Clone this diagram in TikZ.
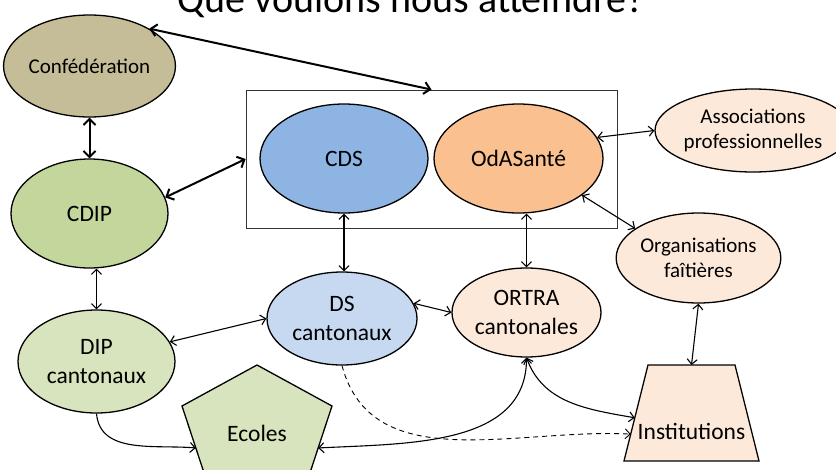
\documentclass[tikz,border=0pt]{standalone}
\usepackage{fontspec}
\setmainfont{Carlito}
\usetikzlibrary{shapes.geometric,arrows.meta,calc}
\definecolor{tan}{RGB}{196,189,151}
\definecolor{vertcdip}{RGB}{195,214,155}
\definecolor{vertclair}{RGB}{215,228,189}
\definecolor{bleucds}{RGB}{142,180,227}
\definecolor{bleuclair}{RGB}{198,217,241}
\definecolor{orangeoda}{RGB}{250,192,144}
\definecolor{peche}{RGB}{253,233,217}
\tikzset{
  bulle/.style={ellipse, draw, line width=1.3pt, inner sep=0pt, align=center,
    font=\fontsize{23.5}{28.7}\selectfont},
  petit/.style={font=\fontsize{21}{25.5}\selectfont},
  lien/.style={line width=1.1pt, {Straight Barb[length=5pt,width=10pt]}-{Straight Barb[length=5pt,width=10pt]}},
  gros/.style={line width=2pt, {Straight Barb[length=6pt,width=12pt]}-{Straight Barb[length=6pt,width=12pt]}}
}
\begin{document}
\begin{tikzpicture}[x=1pt,y=-1pt]
\useasboundingbox (0,0) rectangle (836,469);
\node[font=\fontsize{40}{48}\selectfont, anchor=base] (titre) at (411.5,12) {Que voulons nous atteindre?};
\node[draw=black!80, line width=0.8pt, minimum width=371pt, minimum height=138pt] (boite) at (431.5,159) {};
\node[bulle, petit, fill=tan, minimum width=157pt, minimum height=102pt] (conf) at (89.5,66) {Confédération};
\node[bulle, fill=vertcdip, minimum width=157pt, minimum height=109pt] (cdip) at (89.5,213.5) {CDIP};
\node[bulle, fill=vertclair, minimum width=157pt, minimum height=103pt] (dip) at (96.5,361.5) {DIP\\cantonaux};
\node[bulle, fill=bleucds, minimum width=168pt, minimum height=109pt] (cds) at (344,158.5) {CDS};
\node[bulle, fill=orangeoda, minimum width=169pt, minimum height=109pt] (oda) at (518.5,158.5) {OdASanté};
\node[bulle, fill=bleuclair, minimum width=150pt, minimum height=93pt] (ds) at (342,318.5) {DS\\cantonaux};
\node[bulle, fill=peche, minimum width=149pt, minimum height=89pt] (ortra) at (526.5,312.5) {ORTRA\\cantonales};
\node[bulle, petit, fill=peche, minimum width=166pt, minimum height=83pt] (assoc) at (753,130.5) {Associations\\professionnelles};
\node[bulle, petit, fill=peche, minimum width=151pt, minimum height=90pt] (orga) at (698.5,258) {Organisations\\faîtières};
\coordinate (ec-n) at (257,365);
\coordinate (ec-e) at (332,406);
\coordinate (ec-se) at (303,494);
\coordinate (ec-sw) at (211,494);
\coordinate (ec-w) at (182,406);
\filldraw[fill=vertclair, line width=1.3pt, line join=miter] (ec-n) -- (ec-e) -- (ec-se) -- (ec-sw) -- (ec-w) -- cycle;
\node[font=\fontsize{23.5}{28.7}\selectfont] (ecoles) at (257,433) {Ecoles};
\coordinate (inst-nw) at (648,365);
\coordinate (inst-ne) at (735,365);
\coordinate (inst-se) at (759,461);
\coordinate (inst-sw) at (624,461);
\filldraw[fill=peche, line width=1.3pt] (inst-nw) -- (inst-ne) -- (inst-se) -- (inst-sw) -- cycle;
\node[font=\fontsize{23.5}{28.7}\selectfont] (inst) at (691.5,431) {Institutions};
\coordinate (inst-n) at ($(inst-nw)!0.5!(inst-ne)$);
\coordinate (inst-a) at ($(inst-nw)!0.55!(inst-sw)$);
\coordinate (inst-b) at ($(inst-nw)!0.72!(inst-sw)$);
\coordinate (ec-a) at ($(ec-w)!0.477!(ec-sw)$);
\coordinate (ec-b) at ($(ec-e)!0.477!(ec-se)$);
\draw[gros] (conf.32) -- (boite.north);
\draw[gros] (conf.south) -- (cdip.north);
\draw[gros] (cdip.12) -- (boite.west);
\draw[lien] (dip.north |- cdip.south) -- (dip.north);
\draw[lien] (dip.15) -- (ds.west);
\draw[lien] (cds.south) -- (cds.south |- ds.north);
\draw[lien] (ortra.north |- oda.south) -- (ortra.north);
\draw[lien] (ds.12) -- (ortra.west);
\draw[lien] (oda.15) -- (assoc.west);
\draw[lien] (oda.-30) -- (orga.155);
\draw[lien] (orga.south) -- (inst-n);
\draw[lien, -{Straight Barb[length=5pt,width=10pt]}] (dip.south) to[out=-85, in=175] (ec-a);
\draw[lien] (ec-b) to[out=3, in=-90] (ortra.south);
\draw[lien] (ortra.south) to[out=-70, in=170] (inst-a);
\draw[lien, line width=0.9pt, dash pattern=on 5pt off 4pt, -{Straight Barb[length=5pt,width=10pt]}] (ds.south) to[out=-75, in=177] (inst-b);
\end{tikzpicture}
\end{document}
